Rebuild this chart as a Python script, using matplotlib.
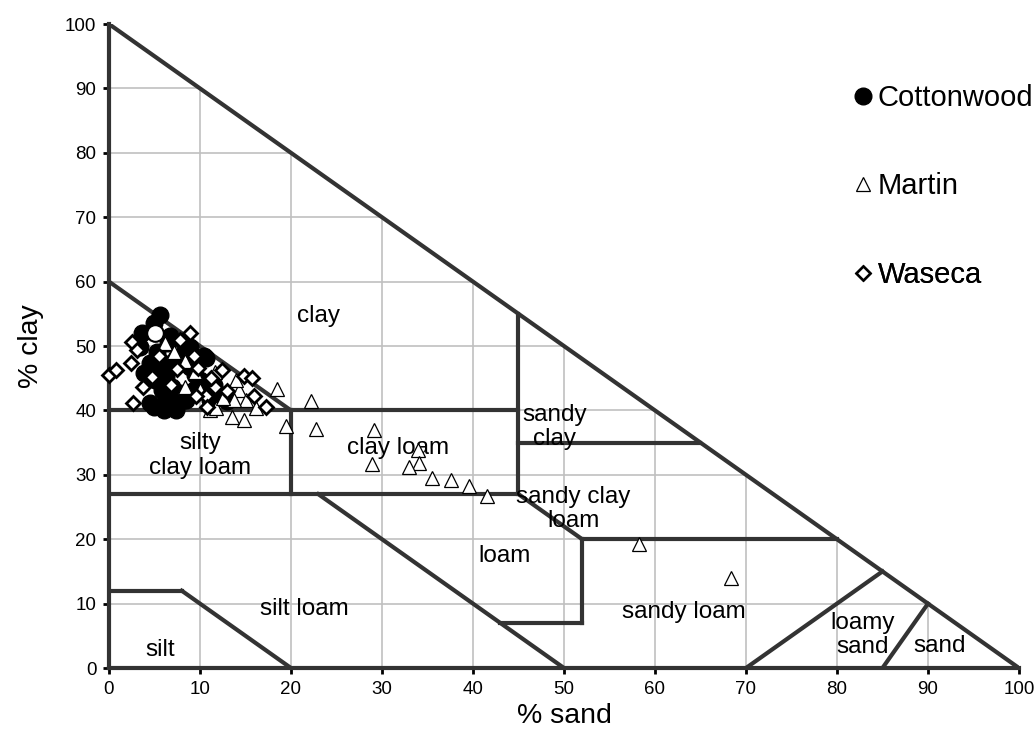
import matplotlib.pyplot as plt
from matplotlib.lines import Line2D

plt.rcParams['font.family'] = ['Liberation Sans', 'DejaVu Sans']

# Textural class boundaries (% sand, % clay)
boundaries = [
    ([0, 100], [100, 0]),
    ([0, 20], [60, 40]),
    ([0, 45], [40, 40]),
    ([20, 20], [40, 27]),
    ([0, 45], [27, 27]),
    ([45, 45], [55, 27]),
    ([45, 65], [35, 35]),
    ([45, 52], [27, 20]),
    ([52, 80], [20, 20]),
    ([52, 52], [20, 7]),
    ([52, 43], [7, 7]),
    ([23, 50], [27, 0]),
    ([0, 8], [12, 12]),
    ([8, 20], [12, 0]),
    ([70, 85], [0, 15]),
    ([85, 90], [0, 10]),
]
triangle = [(0, 0), (100, 0), (0, 100)]

class_names = ['clay', 'sandy\nclay', 'silty\nclay loam', 'clay loam', 'sandy clay\nloam',
               'loam', 'silt loam', 'silt', 'sandy loam', 'loamy\nsand', 'sand']
class_sand = [23, 49, 10, 31.8, 51, 43.5, 21.5, 5.6, 63.2, 82.8, 91.3]
class_clay = [54.7, 37.5, 33.0, 34.1, 24.7, 17.4, 9.2, 2.8, 8.7, 5.2, 3.4]

# Cottonwood
cot_sand = [5.6, 4.9, 3.6, 6.7, 3.4, 8.35, 8.7, 4.5, 5.8, 5.05, 6.3, 5.8, 6.9, 7.8, 4.9, 6.0,
            7.4, 8.5, 6.3, 3.8, 8.9, 10.0, 10.4, 10.7, 8.9, 4.5, 6.0, 7.25, 8.2, 9.3, 11.1,
            10.4, 7.4, 12.0, 11.5, 13.0, 9.5, 7.0, 5.3, 6.5]
cot_clay = [54.8, 53.5, 52.0, 51.5, 49.9, 49.9, 48.6, 47.3, 46.8, 44.7, 45.2, 43.2, 43.7, 42.7,
            40.6, 40.1, 40.1, 41.6, 42.2, 45.8, 46.8, 44.7, 43.2, 48.1, 49.9, 41.1, 40.8, 40.6,
            41.6, 43.2, 41.6, 48.4, 48.1, 42.0, 44.0, 41.5, 45.5, 47.5, 49.0, 50.5]
cot_open_sand = [5.05]
cot_open_clay = [52.0]

# Martin
mar_sand = [58.3, 68.4, 22.2, 19.4, 22.7, 29.1, 28.9, 34.0, 34.1, 33.0, 35.5, 37.6, 39.6, 41.5,
            18.5, 14.8, 13.5, 11.6, 14.3, 15.1, 16.2, 6.15, 7.1, 8.35, 14.0, 13.7, 11.1, 11.8,
            10.0, 8.35, 12.5, 9.5]
mar_clay = [19.3, 14.0, 41.5, 37.6, 37.1, 36.9, 31.7, 33.9, 31.9, 31.2, 29.5, 29.2, 28.3, 26.7,
            43.3, 38.5, 39.0, 46.0, 43.2, 41.6, 40.3, 50.4, 49.1, 47.6, 44.7, 41.6, 40.1, 40.3,
            43.2, 43.7, 42.0, 46.0]

# Waseca
was_sand = [0.0, 0.8, 2.5, 3.1, 2.4, 3.7, 2.6, 8.9, 7.8, 9.3, 9.8, 12.4, 11.6, 10.7, 9.6, 10.8,
            14.8, 15.7, 15.9, 17.3, 4.7, 5.5, 6.8, 7.5, 11.2, 13.0]
was_clay = [45.5, 46.3, 50.7, 49.4, 47.3, 43.7, 41.1, 52.0, 50.9, 48.4, 46.6, 46.3, 43.7, 42.2,
            42.2, 40.6, 45.3, 45.0, 42.2, 40.6, 45.2, 48.5, 44.0, 46.5, 45.0, 43.0]

ticks = list(range(0, 101, 10))
line_col = '#333333'

fig = plt.figure(figsize=(10.35, 7.37), dpi=100)
ax = fig.add_axes([0.1053, 0.0936, 0.8792, 0.8738])
ax.set_xlim(0, 100)
ax.set_ylim(0, 100)
ax.set_xticks(ticks)
ax.set_yticks(ticks)
ax.tick_params(direction='out', length=4, width=2, color='black', labelsize=13.5, pad=5)

for s in ['top', 'right']:
    ax.spines[s].set_visible(False)
for s in ['left', 'bottom']:
    ax.spines[s].set_color(line_col)
    ax.spines[s].set_linewidth(3)

# grid clipped to the triangle
ax.grid(True, color='#c0c0c0', linewidth=1.2, zorder=0)
ax.set_axisbelow(True)
tri_patch = plt.Polygon(triangle, closed=True, transform=ax.transData)
for gl in ax.get_xgridlines() + ax.get_ygridlines():
    gl.set_clip_path(tri_patch)

for xs, ys in boundaries:
    ax.plot(xs, ys, color=line_col, linewidth=3, solid_capstyle='projecting', zorder=2)

for name, xs, ys in zip(class_names, class_sand, class_clay):
    ax.text(xs, ys, name, ha='center', va='center', fontsize=17.5, linespacing=1.12, zorder=3)

ax.plot(cot_sand, cot_clay, 'o', ms=12, mfc='black', mec='black', zorder=4, clip_on=False)
ax.plot(cot_open_sand, cot_open_clay, 'o', ms=12, mfc='white', mec='black', mew=1.5, zorder=4)
ax.plot(mar_sand, mar_clay, '^', ms=10, mfc='white', mec='black', mew=0.9, zorder=5, clip_on=False)
ax.plot(was_sand, was_clay, 'D', ms=7.5, mfc='white', mec='black', mew=2, zorder=6, clip_on=False)

ax.set_xlabel('% sand', fontsize=20.5, labelpad=4)
ax.set_ylabel('% clay', fontsize=20.5, labelpad=15)

legend_items = [
    (Line2D([], [], ls='none', marker='o', ms=12, mfc='black', mec='black'), 'Cottonwood', 0.885),
    (Line2D([], [], ls='none', marker='^', ms=10.5, mfc='white', mec='black', mew=0.9), 'Martin', 0.7484),
    (Line2D([], [], ls='none', marker='D', ms=7, mfc='white', mec='black', mew=1.8), 'Waseca', 0.6102),
]
for handle, label, ypos in legend_items:
    leg = ax.legend([handle], [label], loc='center left', bbox_to_anchor=(0.8187, ypos),
                    frameon=False, fontsize=21, handlelength=0.6, handletextpad=0.21,
                    borderpad=0, borderaxespad=0)
    ax.add_artist(leg)

fig.savefig('out.png', dpi=100)
